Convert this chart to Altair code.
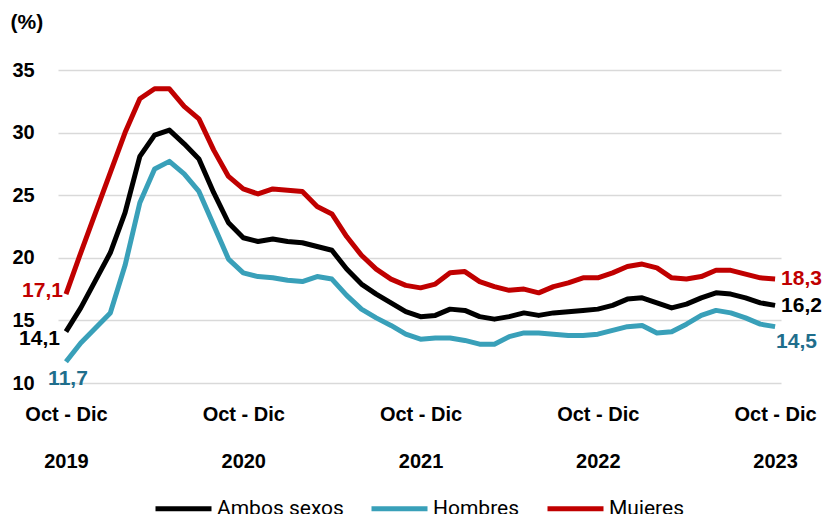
import json
import altair as alt
import pandas as pd

# Rolling quarters from Oct-Dic 2019 (index 0) to Oct-Dic 2023 (index 48)
SERIES = ["Ambos sexos", "Hombres", "Mujeres"]
COLORS = ["#000000", "#39A0B9", "#C00000"]
LABEL_COLORS = ["#000000", "#1F6E8C", "#C00000"]
TICK_POS = [0, 12, 24, 36, 48]
TICK_TOP = "Oct - Dic"
TICK_YEARS = ["2019", "2020", "2021", "2022", "2023"]
Y_TICKS = [10, 15, 20, 25, 30, 35]

ambos = [14.1, 16.0, 18.2, 20.4, 23.6, 28.1, 29.8, 30.2, 29.1, 27.9, 25.2, 22.8,
         21.6, 21.3, 21.5, 21.3, 21.2, 20.9, 20.6, 19.1, 17.9, 17.1, 16.4, 15.7,
         15.3, 15.4, 15.9, 15.8, 15.3, 15.1, 15.3, 15.6, 15.4, 15.6, 15.7, 15.8,
         15.9, 16.2, 16.7, 16.8, 16.4, 16.0, 16.3, 16.8, 17.2, 17.1, 16.8, 16.4,
         16.2]
hombres = [11.7, 13.2, 14.4, 15.6, 19.4, 24.4, 27.1, 27.7, 26.7, 25.3, 22.6, 19.9,
           18.8, 18.5, 18.4, 18.2, 18.1, 18.5, 18.3, 17.0, 15.9, 15.2, 14.6, 13.9,
           13.5, 13.6, 13.6, 13.4, 13.1, 13.1, 13.7, 14.0, 14.0, 13.9, 13.8, 13.8,
           13.9, 14.2, 14.5, 14.6, 14.0, 14.1, 14.7, 15.4, 15.8, 15.6, 15.2, 14.7,
           14.5]
mujeres = [17.1, 20.4, 23.6, 26.8, 30.0, 32.7, 33.5, 33.5, 32.1, 31.1, 28.6, 26.5,
           25.5, 25.1, 25.5, 25.4, 25.3, 24.1, 23.5, 21.7, 20.2, 19.1, 18.3, 17.8,
           17.6, 17.9, 18.8, 18.9, 18.1, 17.7, 17.4, 17.5, 17.2, 17.7, 18.0, 18.4,
           18.4, 18.8, 19.3, 19.5, 19.2, 18.4, 18.3, 18.5, 19.0, 19.0, 18.7, 18.4,
           18.3]

values = [ambos, hombres, mujeres]
rows = []
for s, vals in zip(SERIES, values):
    for i, v in enumerate(vals):
        rows.append({"t": i, "v": v, "serie": s})
df = pd.DataFrame(rows)

FONT = "Liberation Sans"
xscale = alt.Scale(domain=[-0.54, 48.4], nice=False, zero=False)
yscale = alt.Scale(domain=[10, 35], nice=False, zero=False)

label_expr = ("['" + TICK_TOP + "', " + json.dumps(TICK_YEARS) + "[round(datum.value/12)]]")

x_enc = alt.X("t:Q", scale=xscale, axis=alt.Axis(
    values=TICK_POS, labelExpr=label_expr, title=None, domain=False, ticks=False,
    grid=False, labelFontSize=20, labelFontWeight="bold", labelFont=FONT,
    labelColor="#000000", labelPadding=21, labelLineHeight=47, labelBaseline="top",
    labelFlush=False, labelOverlap=False))
y_enc = alt.Y("v:Q", scale=yscale, axis=alt.Axis(
    values=Y_TICKS, title="(%)", titleAngle=0, titleAlign="left", titleX=-48,
    titleY=-42, titleBaseline="alphabetic", titleFontSize=21, titleFontWeight="bold",
    titleFont=FONT, titleColor="#000000", domain=False, ticks=False, grid=True,
    gridColor="#D9D9D9", gridWidth=1.5, labelFontSize=20, labelFontWeight="bold",
    labelFont=FONT, labelColor="#000000", labelAlign="left", labelPadding=46,
    labelBaseline="middle"))

color = alt.Color("serie:N", scale=alt.Scale(domain=SERIES, range=COLORS),
                  legend=alt.Legend(title=None, orient="none", direction="horizontal",
                                    legendX=95, legendY=408, symbolType="stroke",
                                    symbolSize=3136, symbolStrokeWidth=5,
                                    labelFontSize=21, labelFont="Roboto",
                                    labelColor="#000000", labelOffset=3,
                                    columnPadding=17))

lines = alt.Chart(df).mark_line(strokeWidth=5, strokeJoin="round").encode(
    x=x_enc, y=y_enc, color=color, detail="serie:N")

def fmt(v):
    return f"{v:.1f}".replace(".", ",")

layers = [lines]
# (series index, point index, align, dx, dy)
LABEL_SPECS = [
    (2, 0, "right", -3, -3),
    (0, 0, "right", -6, 7),
    (1, 0, "center", 2, 17),
    (2, 48, "left", 6, 0),
    (0, 48, "left", 6, 1),
    (1, 48, "left", 1, 15),
]
for si, pi, align, dx, dy in LABEL_SPECS:
    ldf = pd.DataFrame([{"t": pi, "v": values[si][pi], "txt": fmt(values[si][pi])}])
    layers.append(alt.Chart(ldf).mark_text(
        align=align, baseline="middle", dx=dx, dy=dy, fontSize=21,
        fontWeight="bold", font=FONT, color=LABEL_COLORS[si]).encode(
        x=alt.X("t:Q", scale=xscale), y=alt.Y("v:Q", scale=yscale), text="txt:N"))

chart = alt.layer(*layers).properties(
    width=723, height=313,
    padding={"left": 50, "top": 62, "right": 48, "bottom": 131},
    autosize=alt.AutoSizeParams(type="none"),
    background="#FFFFFF",
).configure_view(stroke=None)

chart.save("out.html", embed_options={"renderer": "svg", "actions": False})
